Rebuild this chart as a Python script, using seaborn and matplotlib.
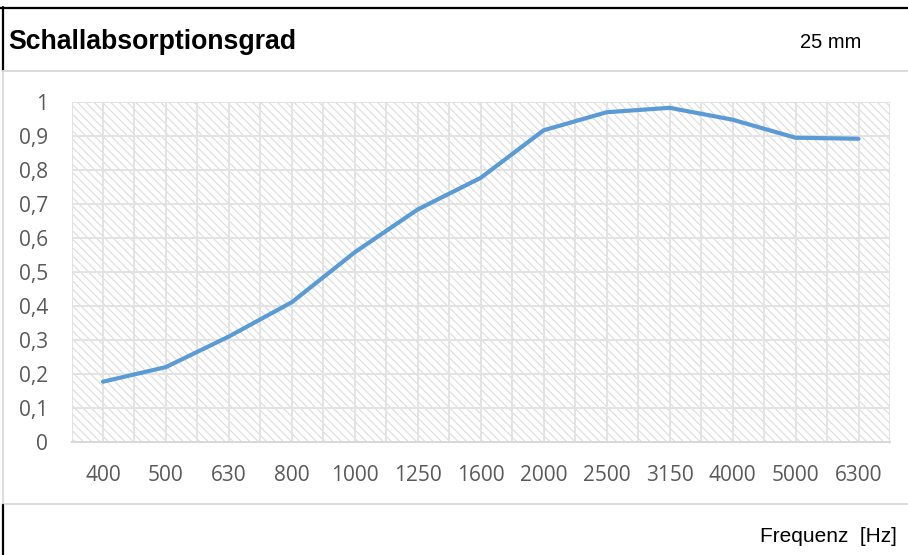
import numpy as np
import pandas as pd
import matplotlib
matplotlib.use("Agg")
import matplotlib.pyplot as plt
from matplotlib.lines import Line2D
from matplotlib.patches import Rectangle
import seaborn as sns

# data
frequencies = ["400", "500", "630", "800", "1000", "1250", "1600",
               "2000", "2500", "3150", "4000", "5000", "6300"]
absorption = [0.176, 0.219, 0.309, 0.410, 0.557, 0.683, 0.776,
              0.916, 0.969, 0.982, 0.947, 0.894, 0.891]
y_ticks = [0, 0.1, 0.2, 0.3, 0.4, 0.5, 0.6, 0.7, 0.8, 0.9, 1.0]
y_tick_labels = ["0", "0,1", "0,2", "0,3", "0,4", "0,5", "0,6",
                 "0,7", "0,8", "0,9", "1"]
title = "Schallabsorptionsgrad"
thickness = "25 mm"
x_title = "Frequenz  [Hz]"

sns.set_theme(style="white")
plt.rcParams["hatch.color"] = "#dcdcdc"
plt.rcParams["hatch.linewidth"] = 0.8

W, H = 908, 555
fig = plt.figure(figsize=(W / 100, H / 100), dpi=100)
fig.patch.set_facecolor("white")

# plot area in pixel coordinates
left, right, top, bottom = 71.5, 890, 101.7, 441.5
ax = fig.add_axes([left / W, 1 - bottom / H, (right - left) / W, (bottom - top) / H])

df = pd.DataFrame({"freq": frequencies, "alpha": absorption})

# hatched background
ax.add_patch(Rectangle((0, 0), 1, 1, transform=ax.transAxes, facecolor="white",
                       edgecolor="#dcdcdc", hatch="\\\\\\\\", linewidth=0, zorder=0))

sns.lineplot(data=df, x="freq", y="alpha", sort=False, ax=ax, color="#5b9bd5",
             linewidth=3.0, solid_capstyle="round", zorder=3)

ax.set_xlim(-0.5, len(frequencies) - 0.5)
ax.set_ylim(0, 1)
ax.set_yticks(y_ticks)
ax.set_yticklabels(y_tick_labels)
ax.set_xticks(range(len(frequencies)))
ax.set_xticklabels(frequencies)
ax.set_xlabel("")
ax.set_ylabel("")

# gridlines: horizontal every 0.1, vertical every half category
for yv in y_ticks:
    ax.axhline(yv, color="#e3e3e3", linewidth=1.4, zorder=1)
for xv in np.arange(-0.5, len(frequencies), 0.5):
    ax.axvline(xv, color="#e3e3e3", linewidth=1.4, zorder=1)

for s in ["top", "right", "left"]:
    ax.spines[s].set_visible(False)
ax.spines["bottom"].set_color("#d9d9d9")
ax.spines["bottom"].set_linewidth(1.5)
ax.spines["bottom"].set_zorder(2)

ax.tick_params(axis="both", length=0, labelsize=15, labelcolor="#595959")
ax.tick_params(axis="x", pad=17)
ax.tick_params(axis="y", pad=17)
for lbl in ax.get_xticklabels() + ax.get_yticklabels():
    lbl.set_fontfamily("Open Sans")

# texts around the chart
fig.text(8 / W, 1 - 49 / H, title, fontsize=19.2, fontweight="bold",
         family="Liberation Sans", color="black", va="baseline", ha="left")
fig.text(861 / W, 1 - 47.7 / H, thickness, fontsize=14.5,
         family="Liberation Sans", color="black", va="baseline", ha="right")
fig.text(897 / W, 1 - 541.7 / H, x_title, fontsize=15,
         family="Liberation Sans", color="black", va="baseline", ha="right")

# cell borders and chart frame
def hline(y, x0, x1, color, lw):
    fig.add_artist(Line2D([x0 / W, x1 / W], [1 - y / H, 1 - y / H], color=color, linewidth=lw))

def vline(x, y0, y1, color, lw):
    fig.add_artist(Line2D([x / W, x / W], [1 - y0 / H, 1 - y1 / H], color=color, linewidth=lw))

hline(7.5, 0, W, "black", 1.6)
vline(2.5, 6.7, 71, "black", 1.6)
hline(71, 2, W, "#d9d9d9", 1.3)
vline(2.5, 71, 503.5, "#d9d9d9", 1.3)
hline(503.5, 2, W, "#d9d9d9", 1.3)
vline(2.5, 505, H, "black", 1.6)

fig.savefig("out.png", dpi=100, facecolor="white")
